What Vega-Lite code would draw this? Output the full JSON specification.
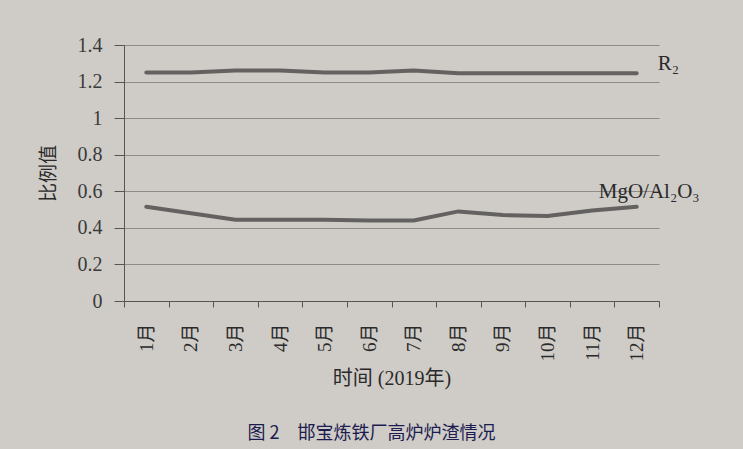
{
  "$schema": "https://vega.github.io/schema/vega-lite/v6.json",
  "width": 535,
  "height": 256,
  "padding": {"left": 124, "top": 45, "right": 84, "bottom": 148},
  "autosize": {"type": "none"},
  "background": "#cfccc7",
  "title": {
    "text": "图 2　邯宝炼铁厂高炉炉渣情况",
    "orient": "bottom",
    "anchor": "middle",
    "font": "Noto Sans CJK SC",
    "fontSize": 18,
    "fontWeight": "normal",
    "color": "#1c1c50",
    "offset": 37,
    "dx": -20
  },
  "config": {
    "view": {"stroke": null},
    "font": "Liberation Serif"
  },
  "datasets": {
    "series": [
      {"month": "1月", "series": "R2", "value": 1.25},
      {"month": "2月", "series": "R2", "value": 1.25},
      {"month": "3月", "series": "R2", "value": 1.26},
      {"month": "4月", "series": "R2", "value": 1.26},
      {"month": "5月", "series": "R2", "value": 1.25},
      {"month": "6月", "series": "R2", "value": 1.25},
      {"month": "7月", "series": "R2", "value": 1.26},
      {"month": "8月", "series": "R2", "value": 1.245},
      {"month": "9月", "series": "R2", "value": 1.245},
      {"month": "10月", "series": "R2", "value": 1.245},
      {"month": "11月", "series": "R2", "value": 1.245},
      {"month": "12月", "series": "R2", "value": 1.245},
      {"month": "1月", "series": "MgO", "value": 0.515},
      {"month": "2月", "series": "MgO", "value": 0.48},
      {"month": "3月", "series": "MgO", "value": 0.445},
      {"month": "4月", "series": "MgO", "value": 0.445},
      {"month": "5月", "series": "MgO", "value": 0.445},
      {"month": "6月", "series": "MgO", "value": 0.44},
      {"month": "7月", "series": "MgO", "value": 0.44},
      {"month": "8月", "series": "MgO", "value": 0.49},
      {"month": "9月", "series": "MgO", "value": 0.47},
      {"month": "10月", "series": "MgO", "value": 0.465},
      {"month": "11月", "series": "MgO", "value": 0.495},
      {"month": "12月", "series": "MgO", "value": 0.515}
    ],
    "labels": [
      {"month": "12月", "value": 1.245, "label": "R₂", "kind": "r"},
      {"month": "12月", "value": 0.515, "label": "MgO/Al₂O₃", "kind": "m"}
    ]
  },
  "encoding": {
    "x": {
      "field": "month",
      "type": "nominal",
      "sort": ["1月", "2月", "3月", "4月", "5月", "6月", "7月", "8月", "9月", "10月", "11月", "12月"],
      "scale": {"paddingInner": 0, "paddingOuter": 0},
      "axis": {
        "title": "时间 (2019年)",
        "titleFont": "Liberation Serif, Noto Sans CJK SC",
        "titleFontSize": 20,
        "titleFontWeight": "normal",
        "titleColor": "#2a2a2a",
        "titlePadding": 7,
        "labelAngle": 270,
        "labelAlign": "right",
        "labelBaseline": "middle",
        "labelFont": "Liberation Serif, Noto Sans CJK SC",
        "labelFontSize": 19,
        "labelColor": "#2a2a2a",
        "labelPadding": 16,
        "labelOverlap": false,
        "tickBand": "extent",
        "tickSize": 6,
        "tickColor": "#555",
        "domainColor": "#555",
        "domainWidth": 1,
        "grid": false
      }
    },
    "y": {
      "field": "value",
      "type": "quantitative",
      "scale": {"domain": [0, 1.4], "nice": false},
      "axis": {
        "title": "比例值",
        "titleFont": "Noto Sans CJK SC",
        "titleFontSize": 19,
        "titleFontWeight": "normal",
        "titleColor": "#2a2a2a",
        "titlePadding": 19,
        "values": [0, 0.2, 0.4, 0.6, 0.8, 1, 1.2, 1.4],
        "format": "~g",
        "labelOverlap": false,
        "labelFont": "Liberation Serif",
        "labelFontSize": 20,
        "labelColor": "#3a3a3a",
        "labelPadding": 12,
        "tickSize": 10,
        "tickColor": "#555",
        "domainColor": "#555",
        "grid": true,
        "gridColor": "#8f8c88",
        "gridWidth": 1
      }
    }
  },
  "layer": [
    {
      "data": {"name": "series"},
      "mark": {"type": "line", "color": "#646260", "strokeWidth": 4, "strokeCap": "round"},
      "encoding": {
        "detail": {"field": "series"}
      }
    },
    {
      "data": {"name": "labels"},
      "transform": [{"filter": "datum.kind == 'r'"}],
      "mark": {"type": "text", "align": "left", "baseline": "alphabetic", "font": "Liberation Serif", "fontSize": 21, "color": "#2a2a2a", "dx": 21, "dy": -3},
      "encoding": {
        "text": {"field": "label"}
      }
    },
    {
      "data": {"name": "labels"},
      "transform": [{"filter": "datum.kind == 'm'"}],
      "mark": {"type": "text", "align": "left", "baseline": "alphabetic", "font": "Liberation Serif", "fontSize": 21, "color": "#2a2a2a", "dx": -38, "dy": -9},
      "encoding": {
        "text": {"field": "label"}
      }
    }
  ]
}
